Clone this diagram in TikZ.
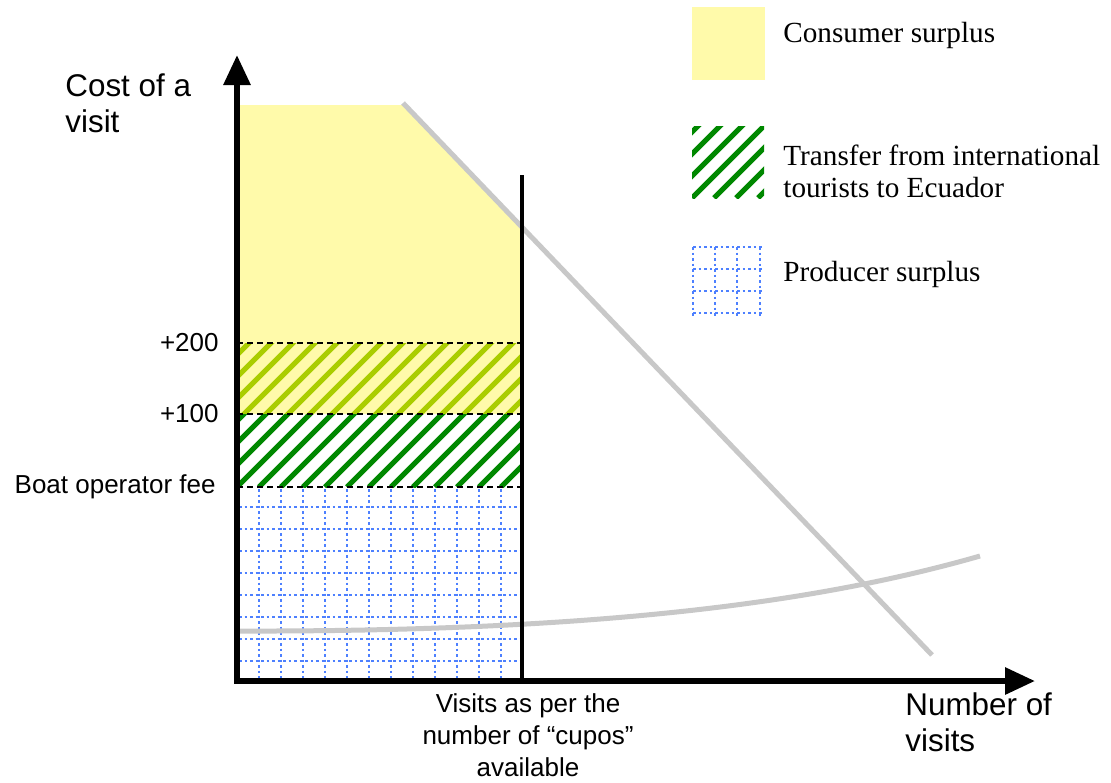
\documentclass[tikz,border=0pt]{standalone}
\usepackage{fontspec}
\setmainfont{Liberation Serif}
\newfontfamily\arial{Liberation Sans}
\usetikzlibrary{arrows.meta}
\definecolor{cs}{RGB}{255,250,170}
\definecolor{ygreen}{RGB}{170,205,0}
\definecolor{dgreen}{RGB}{0,136,0}
\definecolor{gridblue}{RGB}{77,128,255}
\definecolor{curvegray}{RGB}{200,200,200}

\begin{document}
\begin{tikzpicture}[x=0.5pt,y=-0.5pt,>={Triangle[length=15pt,width=13pt]},
axis/.style={line width=3pt,line join=miter},
curve/.style={line width=2.5pt,curvegray},
fee/.style={dash pattern=on 3pt off 2pt,line width=0.75pt},
stripe/.style={line width=2.6pt},
dots/.style={gridblue,line width=1.3pt,dash pattern=on 1.3pt off 1.45pt},
lbl/.style={font=\arial\fontsize{13}{16}\selectfont,inner sep=0pt},
big/.style={font=\arial\fontsize{15.7}{18}\selectfont,inner sep=0pt,align=left},
legend/.style={font=\fontsize{14.6}{16}\selectfont,inner sep=0pt,anchor=west,align=left}]
\useasboundingbox (0,0) rectangle (1111,782);
\coordinate (O) at (237,681);
\coordinate (ytop) at (237,55);
\coordinate (xend) at (1035,681);
\coordinate (cupo) at (522,175);
\coordinate (dtop) at (403,103);
\coordinate (dend) at (932,655);
\coordinate (sstart) at (237,631);
\coordinate (send) at (980,556);
% consumer surplus
\fill[cs] (237,105) -- (403,105) -- (522,227) -- (522,414) -- (237,414) -- cycle;
% transfer bands
\begin{scope}
\clip (237,343) rectangle (522,414);
\foreach \k in {-8,...,14} \draw[stripe,ygreen] ({237+22*\k},487) -- ++(160,-160);
\end{scope}
\begin{scope}
\clip (237,414) rectangle (522,487);
\foreach \k in {-8,...,14} \draw[stripe,dgreen] ({237+22*\k},487) -- ++(160,-160);
\end{scope}
% producer surplus
\begin{scope}
\clip (237,487) rectangle (522,681);
\foreach \x in {259,281,...,520} \draw[dots] (\x,489) -- (\x,681);
\foreach \y in {507,529,...,680} \draw[dots] (239,\y) -- (522,\y);
\end{scope}
\draw[fee] (237,343) -- (522,343);
\draw[fee] (237,414) -- (522,414);
\draw[fee] (237,487) -- (522,487);
\node[lbl,anchor=east] (p200) at (219,343) {+200};
\node[lbl,anchor=east] (p100) at (219,414) {+100};
\node[lbl,anchor=east] (fee) at (216,487) {Boat operator fee};
% demand and supply
\draw[curve] (dtop) -- (dend);
\draw[curve] (sstart) .. controls (600,632) and (820,602) .. (send);
% cupos line and axes
\draw[line width=2pt] (cupo) -- (cupo |- O);
\draw[axis,<->] (ytop) |- (xend);
\node[big,anchor=north west] (ylab) at (65,73) {Cost of a\\visit};
\node[big,anchor=north west] (xlab) at (905,692) {Number of\\visits};
\node[lbl,anchor=north,align=center] (cuplab) at (528,693) {Visits as per the\\number of “cupos”\\available};
% legend
\fill[cs] (692,7) rectangle (765,80);
\begin{scope}
\clip (692,126) rectangle (764,198);
\foreach \k in {-4,...,4} \draw[stripe,dgreen] ({692+22*\k},198) -- ++(100,-100);
\end{scope}
\foreach \x in {693,715,737,760} \draw[dots] (\x,247) -- (\x,318);
\foreach \y in {247,269,291,313} \draw[dots] (693,\y) -- (762,\y);
\node[legend] (lcs) at (783,35) {Consumer surplus};
\node[legend] (ltr) at (783,171) {Transfer from international\\tourists to Ecuador};
\node[legend] (lps) at (783,274) {Producer surplus};
\end{tikzpicture}
\end{document}
